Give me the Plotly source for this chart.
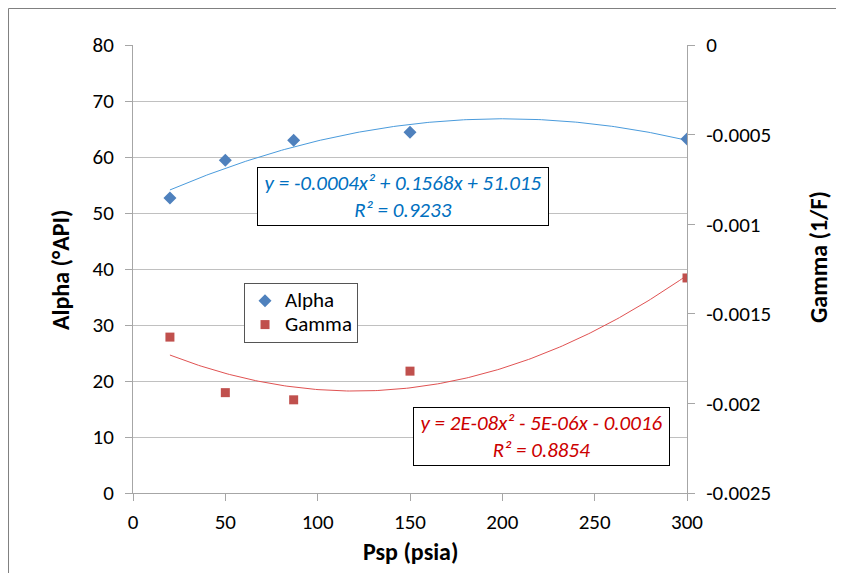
import numpy as np
import plotly.graph_objects as go

# ---- data ----
psp = [20, 50, 87, 150, 300]
alpha = [52.7, 59.4, 63.0, 64.4, 63.2]
gamma = [-0.00163, -0.00194, -0.00198, -0.00182, -0.00130]

x_ticks = [0, 50, 100, 150, 200, 250, 300]
alpha_ticks = [0, 10, 20, 30, 40, 50, 60, 70, 80]
gamma_ticks = [0, -0.0005, -0.001, -0.0015, -0.002, -0.0025]
gamma_ticktext = ["0", "-0.0005", "-0.001", "-0.0015", "-0.002", "-0.0025"]

alpha_eq = "y = -0.0004x² + 0.1568x + 51.015<br>R² = 0.9233"
gamma_eq = "y = 2E-08x² - 5E-06x - 0.0016<br>R² = 0.8854"

FONT = "Carlito, Lato, sans-serif"
AX_COL = "#A6A6A6"
FS = 21

# polynomial trendlines (order 2) fitted to the data
xs = np.linspace(min(psp), max(psp), 200)
a_fit = np.polyval(np.polyfit(psp, alpha, 2), xs)
g_fit = np.polyval(np.polyfit(psp, gamma, 2), xs)


def leg(name):
    return "<span style='font-size:%dpx'>%s</span>" % (FS, name)


fig = go.Figure()
fig.add_trace(go.Scatter(x=xs, y=a_fit, mode="lines", line=dict(color="#4A9BDC", width=1),
                         showlegend=False, hoverinfo="skip"))
fig.add_trace(go.Scatter(x=xs, y=g_fit, mode="lines", line=dict(color="#E05252", width=1),
                         showlegend=False, hoverinfo="skip", yaxis="y2"))
fig.add_trace(go.Scatter(x=psp, y=alpha, mode="markers", name=leg("Alpha"),
                         marker=dict(symbol="diamond", size=10, color="#4F81BD")))
fig.add_trace(go.Scatter(x=psp, y=gamma, mode="markers", name=leg("Gamma"), yaxis="y2",
                         marker=dict(symbol="square", size=9, color="#C0504D")))

fig.update_layout(
    width=836, height=565,
    margin=dict(l=125, r=157, t=37, b=80),
    paper_bgcolor="white", plot_bgcolor="white",
    font=dict(family=FONT, size=FS, color="#000000"),
    xaxis=dict(range=[0, 300], tickvals=x_ticks, showgrid=False, zeroline=False,
               showline=True, linecolor=AX_COL, linewidth=1,
               ticks="outside", ticklen=7, tickcolor=AX_COL, ticklabelstandoff=3),
    yaxis=dict(range=[0, 80], tickvals=alpha_ticks, showgrid=True, gridcolor="#C0C0C0",
               zeroline=False, showline=True, linecolor=AX_COL, linewidth=1,
               ticks="outside", ticklen=7, tickcolor=AX_COL, ticklabelstandoff=7),
    yaxis2=dict(range=[-0.0025, 0], tickvals=gamma_ticks, ticktext=gamma_ticktext,
                overlaying="y", side="right", showgrid=False, zeroline=False,
                showline=True, linecolor=AX_COL, linewidth=1,
                ticks="outside", ticklen=7, tickcolor=AX_COL, ticklabelstandoff=7),
    legend=dict(x=0.2004, y=0.469, xanchor="left", yanchor="top",
                bgcolor="white", bordercolor="#555555", borderwidth=1,
                font=dict(size=16), tracegroupgap=0),
    showlegend=True,
)

annotations = [
    dict(text="<b>Alpha (°API)</b>", x=-0.130, y=0.4978, xref="paper", yref="paper",
         textangle=-90, showarrow=False, font=dict(size=24), xanchor="center", yanchor="middle"),
    dict(text="<b>Gamma (1/F)</b>", x=1.2383, y=0.5268, xref="paper", yref="paper",
         textangle=-90, showarrow=False, font=dict(size=24), xanchor="center", yanchor="middle"),
    dict(text="<b>Psp (psia)</b>", x=0.5, y=-0.1295, xref="paper", yref="paper",
         showarrow=False, font=dict(size=24), xanchor="center", yanchor="middle"),
    dict(text="<i>" + alpha_eq.replace("<br>", "</i><br><i>") + "</i>", x=0.4874, y=0.6618,
         xref="paper", yref="paper", showarrow=False, xanchor="center", yanchor="middle",
         font=dict(size=FS, color="#0070C0"), align="center",
         bgcolor="white", bordercolor="#000000", borderwidth=1, borderpad=1,
         width=288, height=55),
    dict(text="<i>" + gamma_eq.replace("<br>", "</i><br><i>") + "</i>", x=0.7374, y=0.1261,
         xref="paper", yref="paper", showarrow=False, xanchor="center", yanchor="middle",
         font=dict(size=FS, color="#CC0000"), align="center",
         bgcolor="white", bordercolor="#000000", borderwidth=1, borderpad=1,
         width=253, height=55),
]
fig.update_layout(annotations=annotations)

# outer chart frame: only its left and top edges are in view
FRAME_L, FRAME_T = -0.2247, 1.0815
fig.add_shape(type="line", xref="paper", yref="paper", x0=FRAME_L, x1=FRAME_L, y0=-0.5, y1=FRAME_T,
              line=dict(color="#7F7F7F", width=1), layer="below")
fig.add_shape(type="line", xref="paper", yref="paper", x0=FRAME_L, x1=1.5, y0=FRAME_T, y1=FRAME_T,
              line=dict(color="#7F7F7F", width=1), layer="below")

fig.write_html("out.html")
